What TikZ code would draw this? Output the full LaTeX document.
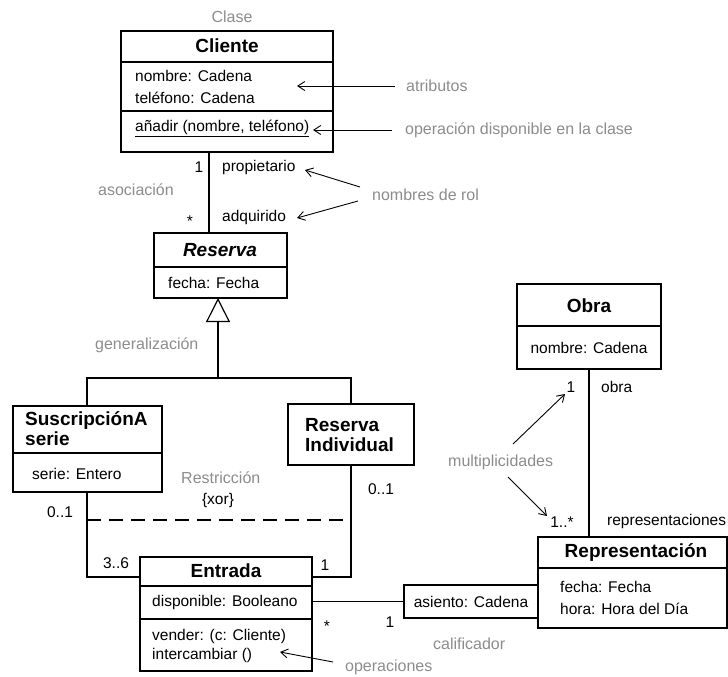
\documentclass[tikz,border=0pt]{standalone}
\usepackage{fontspec}
\setmainfont{Liberation Sans}
\usetikzlibrary{arrows.meta}
\begin{document}
\begin{tikzpicture}[x=1pt,y=-1pt,
  box/.style={draw, line width=1.3pt, anchor=north west, inner sep=0pt, outer sep=0pt},
  ttl/.style={font=\fontsize{19}{22}\selectfont\bfseries, inner sep=0pt},
  txt/.style={font=\fontsize{15.5}{18.5}\selectfont, inner sep=0pt},
  note/.style={font=\fontsize{16}{19}\selectfont, text=black!45, inner sep=0pt},
  conn/.style={line width=1.2pt},
  sepline/.style={line width=1.1pt},
  ann/.style={line width=0.9pt, -{Straight Barb[length=7pt,width=9pt]}},
]
\useasboundingbox (0,0) rectangle (728,677);

% ---------- Cliente ----------
\node[note] (clase) at (232,17) {Clase};
\node[box, minimum width=212pt, minimum height=121pt] (cliente) at (121,31) {};
\draw[sepline] (cliente.west |- 0,62) -- (cliente.east |- 0,62);
\draw[sepline] (cliente.west |- 0,111) -- (cliente.east |- 0,111);
\node[ttl] (clienteT) at (227,46) {Cliente};
\node[txt, anchor=west] (cli1) at (135,76) {nombre: Cadena};
\node[txt, anchor=west] (cli2) at (135,98) {teléfono: Cadena};
\node[txt, anchor=west] (cli3) at (135,128) {\underline{añadir (nombre, teléfono)}};

\node[note, anchor=west] (atrib) at (406,86) {atributos};
\draw[ann] (395,86) -- (297,86);
\node[note, anchor=west] (opdisp) at (405,130) {operación disponible en la clase};
\draw[ann] (392,130) -- (313,130);

% ---------- Reserva ----------
\node[box, minimum width=133pt, minimum height=65pt] (reserva) at (154,233) {};
\draw[sepline] (reserva.west |- 0,267) -- (reserva.east |- 0,267);
\node[ttl, font=\fontsize{19}{22}\selectfont\bfseries\itshape] (reservaT) at (220,250) {Reserva};
\node[txt, anchor=west] (res1) at (168,283) {fecha: Fecha};

\draw[conn] (209,0 |- cliente.south) -- (209,0 |- reserva.north);
\node[txt] (m1) at (199,167) {1};
\node[txt, anchor=west] (prop) at (222,167) {propietario};
\node[note, anchor=west] (asoc) at (98,190) {asociación};
\node[txt] (m2) at (190,221) {*};
\node[txt, anchor=west] (adq) at (222,217) {adquirido};
\node[note, anchor=west] (nrol) at (372,195) {nombres de rol};
\draw[ann] (360,187) -- (305,170);
\draw[ann] (358,201) -- (297,218);

% ---------- Subclasses ----------
\node[box, minimum width=149pt, minimum height=86pt] (susc) at (13,406) {};
\draw[sepline] (susc.west |- 0,453) -- (susc.east |- 0,453);
\node[ttl, anchor=north west, align=left, font=\fontsize{19}{20.5}\selectfont\bfseries] (suscT) at (25,411) {SuscripciónA\\serie};
\node[txt, anchor=west] (susc1) at (32,474) {serie: Entero};

\node[box, minimum width=126pt, minimum height=61pt] (rind) at (288,404) {};
\node[ttl, anchor=north west, align=left, font=\fontsize{19}{20.5}\selectfont\bfseries] (rindT) at (305,418) {Reserva\\Individual};

\coordinate (gj) at (218,378);
\draw[conn] (87,0 |- susc.north) |- (gj) -| (351,0 |- rind.north);
\draw[conn, -{Triangle[open, length=24pt, width=24pt, line width=1.2pt]}] (gj) -- (gj |- reserva.south);
\node[note, anchor=west] (gen) at (95,345) {generalización};

% ---------- Entrada ----------
\node[box, minimum width=172pt, minimum height=114pt] (entrada) at (140,557) {};
\draw[sepline] (entrada.west |- 0,586) -- (entrada.east |- 0,586);
\draw[sepline] (entrada.west |- 0,619) -- (entrada.east |- 0,619);
\node[ttl] (entradaT) at (226,571) {Entrada};
\node[txt, anchor=west] (ent1) at (152,602) {disponible: Booleano};
\node[txt, anchor=west] (ent2) at (152,636) {vender: (c: Cliente)};
\node[txt, anchor=west] (ent3) at (152,655) {intercambiar ()};

\draw[conn] (87,0 |- susc.south) |- (entrada.west |- 0,577);
\draw[conn] (351,0 |- rind.south) |- (entrada.east |- 0,577);
\draw[conn, dash pattern=on 14pt off 8pt] (87,520) -- (351,520);
\node[txt] (m3) at (60,512) {0..1};
\node[txt] (m4) at (381,489) {0..1};
\node[txt] (m5) at (116,563) {3..6};
\node[txt] (m6) at (325,565) {1};
\node[note, anchor=west] (restr) at (181,478) {Restricción};
\node[txt] (xor) at (218,500) {\{xor\}};

\node[note, anchor=west] (oper) at (345,667) {operaciones};
\draw[ann] (333,662) -- (280,652);

% ---------- Obra / Representación ----------
\node[box, minimum width=144pt, minimum height=85pt] (obra) at (517,284) {};
\draw[sepline] (obra.west |- 0,326) -- (obra.east |- 0,326);
\node[ttl] (obraT) at (589,306) {Obra};
\node[txt] (obra1) at (589,348) {nombre: Cadena};

\node[box, minimum width=189pt, minimum height=91pt] (rep) at (538,537) {};
\draw[sepline] (rep.west |- 0,568) -- (rep.east |- 0,568);
\node[ttl] (repT) at (636,552) {Representación};
\node[txt, anchor=west] (rep1) at (560,587) {fecha: Fecha};
\node[txt, anchor=west] (rep2) at (560,609) {hora: Hora del Día};

\draw[conn] (589,0 |- obra.south) -- (589,0 |- rep.north);
\node[txt] (m7) at (571,387) {1};
\node[txt, anchor=west] (obraR) at (601,387) {obra};
\node[txt] (m8) at (562,522) {1..*};
\node[txt, anchor=west] (repR) at (607,521) {representaciones};
\node[note, anchor=west] (mult) at (448,462) {multiplicidades};
\draw[ann] (513,444) -- (565,394);
\draw[ann] (508,477) -- (547,516);

% ---------- Calificador ----------
\node[box, minimum width=134pt, minimum height=33pt] (asiento) at (404,585) {};
\node[txt] (asientoT) at (471,602) {asiento: Cadena};
\draw[conn] (entrada.east |- asiento.west) -- (asiento.west);
\node[txt] (m9) at (327,626) {*};
\node[txt] (m10) at (390,622) {1};
\node[note, anchor=west] (calif) at (433,644) {calificador};
\end{tikzpicture}
\end{document}
